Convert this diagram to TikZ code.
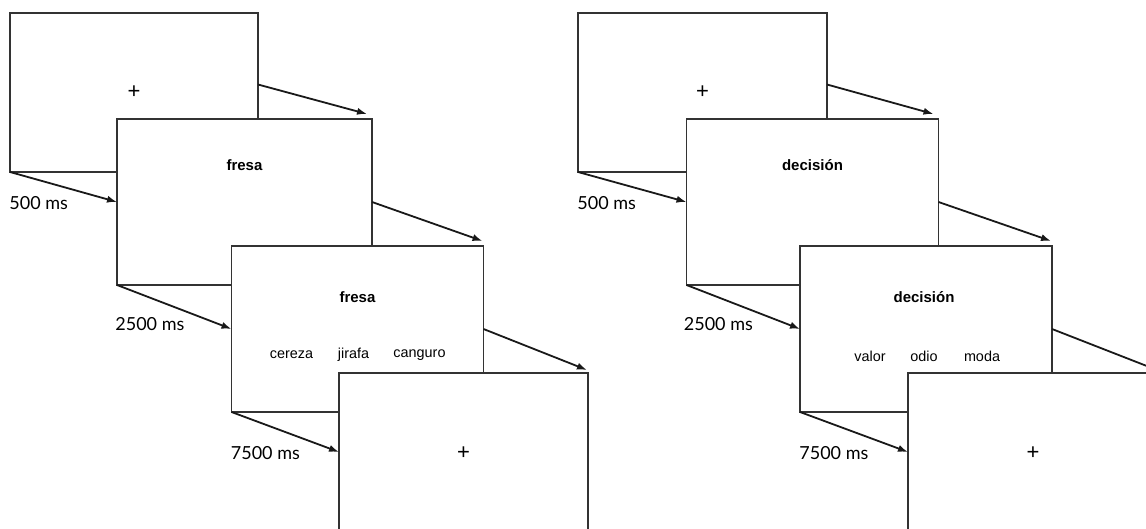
\documentclass[tikz,border=0pt]{standalone}
\usepackage{fontspec}
\setmainfont{Liberation Sans}
\newfontfamily\labfont{Lato}
\usetikzlibrary{arrows.meta,calc,positioning}
\tikzset{
	screen/.style={draw=black!80,fill=white,line width=0.7pt,minimum width=126pt,minimum height=83pt,inner sep=0,outer sep=0},
	cue/.style={font=\fontsize{7.5}{8}\selectfont\bfseries,inner sep=0},
	word/.style={font=\fontsize{7.2}{8}\selectfont,inner sep=0},
	fix/.style={font=\fontsize{11}{11}\selectfont,inner sep=0},
	lab/.style={font=\labfont\fontsize{9}{10}\selectfont,anchor=west,inner sep=0},
	go/.style={-{Latex[length=5pt,width=3.6pt]},line width=0.9pt,black!90}
}

\begin{document}
\begin{tikzpicture}[x=0.5pt,y=-0.5pt]
	\useasboundingbox (0,0) rectangle (1146,529);
	\clip (0,0) rectangle (1146,529);
	% fresa trial
	\node[screen,minimum width=124pt,minimum height=79.5pt] (a1) at (134,92.5) {};
	\node[screen,minimum width=127.5pt] (a2) at (244.5,202) {};
	\node[screen] (a3) at (357.5,329) {};
	\node[screen,minimum width=124.5pt] (a4) at (463.5,456) {};
	\node[fix] (ap1) at (a1) {+};
	\node[cue] (ac2) at ($(a2)+(0,-37)$) {fresa};
	\node[cue] (ac3) at ($(a3)+(0,-32)$) {fresa};
	\node[word] (aw1) at ($(a3)+(-66,26)$) {cereza};
	\node[word] (aw2) at ($(a3)+(-4,26)$) {jirafa};
	\node[word] (aw3) at ($(a3)+(62,26)$) {canguro};
	\node[fix] (ap4) at ($(a4)+(0,-3)$) {+};
	\node[lab] (at1) at ($(a1.south west)+(-1,31)$) {500 ms};
	\node[lab] (at2) at ($(a2.south west)+(-2,39)$) {2500 ms};
	\node[lab] (at3) at ($(a3.south west)+(-1,41)$) {7500 ms};
	\draw[go] ([yshift=4pt]a1.east) -- ([shift={(-2.5pt,2.5pt)}]a2.north east);
	\draw[go] (a2.east) -- ([shift={(-0.5pt,2.5pt)}]a3.north east);
	\draw[go] (a3.east) -- ([shift={(-0.5pt,1.5pt)}]a4.north east);
	\draw[go] (a1.south west) -- (a2.west);
	\draw[go] (a2.south west) -- (a3.west);
	\draw[go] (a3.south west) -- ([yshift=2pt]a4.west);
	% decision trial
	\node[screen,minimum width=124.5pt,minimum height=79.5pt] (b1) at (702.5,92.5) {};
	\node[screen] (b2) at (812.5,202) {};
	\node[screen] (b3) at (926,329) {};
	\node[screen,minimum width=125pt] (b4) at (1033,456) {};
	\node[fix] (bp1) at (b1) {+};
	\node[cue] (bc2) at ($(b2)+(0,-37)$) {decisión};
	\node[cue] (bc3) at ($(b3)+(-2,-32)$) {decisión};
	\node[word] (bw1) at ($(b3)+(-56,27)$) {valor};
	\node[word] (bw2) at ($(b3)+(-2,27)$) {odio};
	\node[word] (bw3) at ($(b3)+(56,27)$) {moda};
	\node[fix] (bp4) at ($(b4)+(0,-3)$) {+};
	\node[lab] (bt1) at ($(b1.south west)+(-1,31)$) {500 ms};
	\node[lab] (bt2) at ($(b2.south west)+(-3,39)$) {2500 ms};
	\node[lab] (bt3) at ($(b3.south west)+(-1,41)$) {7500 ms};
	\draw[go] ([yshift=4pt]b1.east) -- ([shift={(-2.5pt,2.5pt)}]b2.north east);
	\draw[go] (b2.east) -- ([shift={(-0.5pt,2.5pt)}]b3.north east);
	\draw[go] (b3.east) -- ([shift={(-0.5pt,1.5pt)}]b4.north east);
	\draw[go] (b1.south west) -- (b2.west);
	\draw[go] (b2.south west) -- (b3.west);
	\draw[go] (b3.south west) -- ([yshift=2pt]b4.west);
\end{tikzpicture}
\end{document}
